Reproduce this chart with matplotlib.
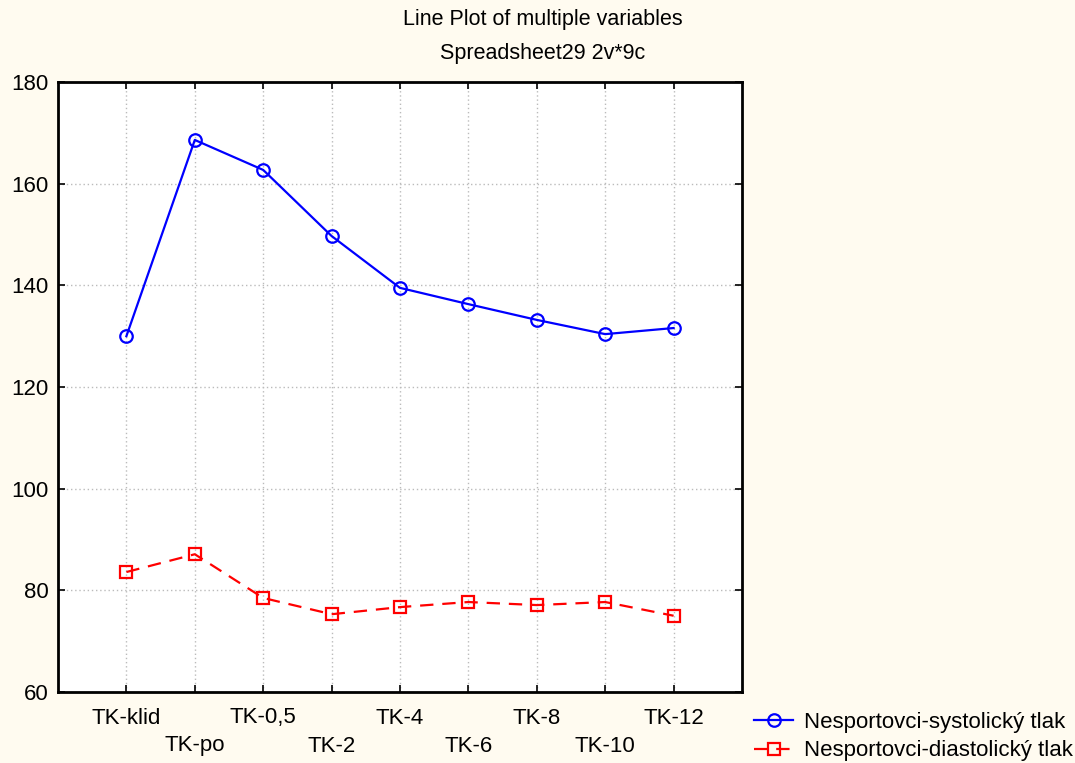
import matplotlib
matplotlib.use("Agg")
import matplotlib.pyplot as plt

categories = ["TK-klid", "TK-po", "TK-0,5", "TK-2", "TK-4", "TK-6", "TK-8", "TK-10", "TK-12"]
systolic = [130.0, 168.6, 162.7, 149.7, 139.5, 136.3, 133.2, 130.4, 131.6]
diastolic = [83.6, 87.1, 78.5, 75.3, 76.7, 77.7, 77.1, 77.7, 75.0]
y_ticks = [60, 80, 100, 120, 140, 160, 180]
series_names = ["Nesportovci-systolický tlak", "Nesportovci-diastolický tlak"]

plt.rcParams["font.family"] = ["Liberation Sans", "DejaVu Sans"]

W, H = 1075, 763
fig = plt.figure(figsize=(W / 100, H / 100), dpi=100, facecolor="#FFFBF0")
ax = fig.add_axes([58 / W, 1 - 692 / H, (742 - 58) / W, (692 - 82) / H])
ax.set_facecolor("white")

x = list(range(len(categories)))
ax.plot(x, systolic, color="#0000FF", lw=1.6, marker="o", ms=9, mfc="none",
        mec="#0000FF", mew=1.6, label=series_names[0], zorder=3)
ax.plot(x, diastolic, color="#FF0000", lw=1.6, ls=(0, (6, 4)), marker="s", ms=8.5,
        mfc="none", mec="#FF0000", mew=1.6, label=series_names[1], zorder=3)

ax.set_xlim(-1, len(categories))
ax.set_ylim(60, 180)
ax.set_yticks(y_ticks)
ax.set_yticklabels([str(v) for v in y_ticks], fontsize=16)
ax.set_xticks(x)
ax.set_xticklabels([])
for i, lab in enumerate(categories):
    dy = -26 if i % 2 == 0 else -54
    ax.annotate(lab, xy=(i, 60), xycoords="data", xytext=(0, dy),
                textcoords="offset pixels", ha="center", va="center", fontsize=16)

ax.grid(True, color="#BBBBBB", ls=(0, (1, 2)), lw=1)
ax.tick_params(direction="in", length=5, width=1.2, top=True, right=True,
               labelsize=16, pad=7)
for s in ax.spines.values():
    s.set_linewidth(2)
    s.set_color("black")

fig.text(543 / W, 1 - 19 / H, "Line Plot of multiple variables", ha="center",
         va="center", fontsize=15.5)
fig.text(543 / W, 1 - 54 / H, "Spreadsheet29 2v*9c", ha="center", va="center",
         fontsize=15.5)

leg = fig.legend(loc="lower right", bbox_to_anchor=(1 + 5 / W, -5 / H), frameon=False,
                 fontsize=16, handlelength=1.75, handletextpad=0.5,
                 labelspacing=0.32, borderpad=0.2, borderaxespad=0.1)

fig.savefig("out.png", dpi=100, facecolor=fig.get_facecolor())
